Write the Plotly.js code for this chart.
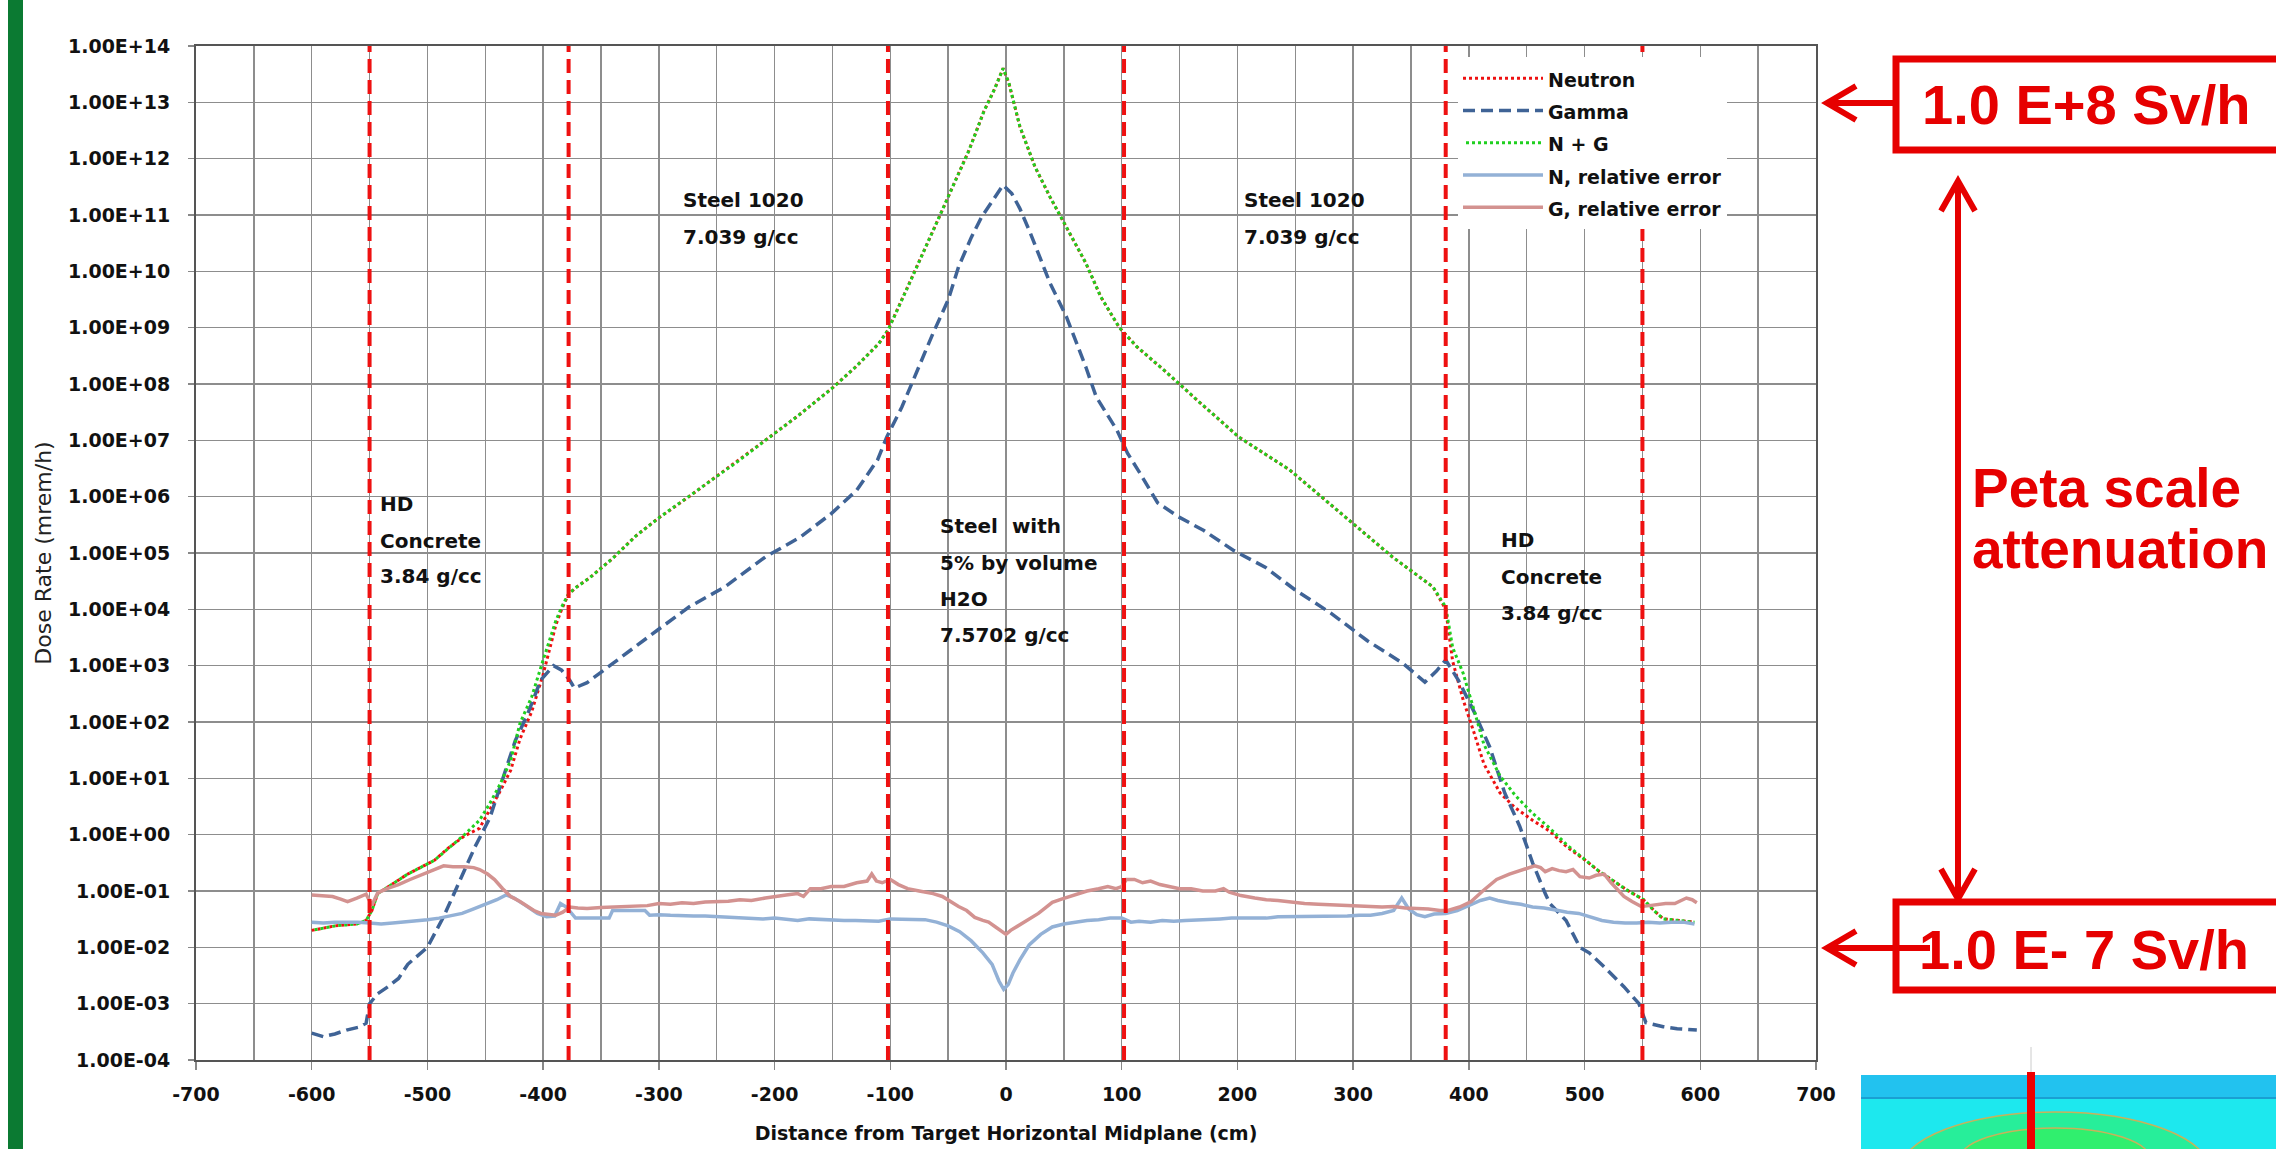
<!DOCTYPE html>
<html><head><meta charset="utf-8">
<script src="https://cdn.plot.ly/plotly-3.0.1.min.js"></script>
<style>html,body{margin:0;padding:0;background:#fff;overflow:hidden}#chart{width:2276px;height:1149px}</style>
</head><body><div id="chart"></div>
<script>
// ---------- data ----------
const xMain = [-600,-590,-580,-570,-561,-553,-548,-543,-534,-517,-494,-481,-468,-455,-446,-437,-428,-420,-410,-400,-389,-384,-378,-371,-360,-340,-320,-300,-274,-250,-230,-208,-180,-150,-130,-110,-102,-85,-72,-59,-46,-32,-19,-10,-2.5,2.5,12,25,38,52,69,82,98,113,136,166,201,245,290,334,369,380,386,395,405,413,427,440,455,470,485,500,513,525,538,551,560,568,580,595];
const nPlusG = [0.020,0.022,0.024,0.025,0.026,0.030,0.045,0.09,0.12,0.2,0.35,0.6,1.0,1.8,3.6,8,21,95,275,1.26e3,6.3e3,1.1e4,1.9e4,2.5e4,3.6e4,8e4,2e5,4.2e5,1e6,2.3e6,4.5e6,1e7,2.7e7,8.5e7,2e8,5.2e8,9e8,5.2e9,2.1e10,8e10,3.2e11,1.4e12,7e12,1.7e13,4e13,2.2e13,3.7e12,7.2e11,2.1e11,6.2e10,1.4e10,3.5e9,1e9,4.6e8,1.8e8,5e7,1.15e7,3e6,5e5,8.5e4,2.5e4,1.1e4,2.1e3,7.4e2,1.5e2,40,11,5,2.4,1.3,0.65,0.36,0.22,0.15,0.1,0.07,0.045,0.032,0.03,0.028];
const neutron = [0.020,0.022,0.024,0.025,0.026,0.030,0.045,0.09,0.12,0.2,0.35,0.6,0.95,1.3,2.8,6,14,50,150,700,5.3e3,1.0e4,1.85e4,2.5e4,3.6e4,8e4,2e5,4.2e5,1e6,2.3e6,4.5e6,1e7,2.7e7,8.5e7,2e8,5.2e8,9e8,5.2e9,2.1e10,8e10,3.2e11,1.4e12,7e12,1.7e13,4e13,2.2e13,3.7e12,7.2e11,2.1e11,6.2e10,1.4e10,3.5e9,1e9,4.6e8,1.8e8,5e7,1.15e7,3e6,5e5,8.5e4,2.5e4,1.0e4,1.2e3,2.5e2,60,18,5.5,3.0,1.8,1.15,0.6,0.36,0.22,0.15,0.1,0.07,0.045,0.032,0.03,0.028];

const xGamma = [-600,-590,-580,-570,-560,-553,-550,-543,-534,-525,-517,-500,-486,-473,-459,-446,-435,-424,-413,-402,-391,-384,-377,-373,-362,-340,-320,-301,-274,-243,-208,-178,-151,-129,-111,-103,-90,-80,-63,-50,-41,-30,-21,-10,-2.5,5,12,21,38,52,69,78,96,105,114,131,149,171,197,224,250,281,312,343,362,372,380,391,405,418,431,444,455,466,470,484,496,504,517,534,547,553,568,580,597];
const gamma = [3.0e-4,2.6e-4,2.9e-4,3.4e-4,3.8e-4,4.5e-4,1.0e-3,1.5e-3,2.0e-3,2.8e-3,5.0e-3,1.0e-2,3.5e-2,0.14,0.6,2.0,10,47,145,560,1.0e3,8.3e2,5.5e2,4.0e2,5.0e2,1.1e3,2.2e3,4.3e3,1.1e4,2.5e4,8.5e4,1.9e5,5e5,1.3e6,4.5e6,1.15e7,3.9e7,1.2e8,8e8,3.1e9,1.2e10,4e10,9.3e10,2e11,3.4e11,2.4e11,1.3e11,4.8e10,6.2e9,1.6e9,2e8,5.9e7,1.5e7,5.9e6,3e6,7.8e5,4.4e5,2.5e5,1.1e5,5.6e4,2.2e4,8.5e3,2.8e3,1.1e3,5.1e2,8e2,1.26e3,5.5e2,1.45e2,36,5.5,1.4,0.32,9e-2,6e-2,3e-2,1e-2,8e-3,4.5e-3,2e-3,1e-3,4.6e-4,3.9e-4,3.6e-4,3.4e-4];

const xNErr = [-600,-590,-580,-570,-560,-550,-540,-530,-520,-510,-500,-490,-480,-470,-460,-450,-440,-432,-425,-415,-405,-397,-390,-385,-380,-372,-360,-350,-343,-340,-330,-320,-312,-308,-300,-290,-280,-270,-260,-250,-240,-230,-220,-210,-200,-190,-180,-170,-160,-150,-140,-130,-120,-110,-100,-90,-80,-70,-60,-50,-40,-30,-20,-12,-6,-2,2,6,12,20,30,40,50,60,70,80,90,100,108,115,125,135,145,155,165,175,185,195,205,215,225,235,245,255,265,275,285,295,305,315,325,335,342,348,355,362,370,380,390,400,410,418,425,435,445,455,465,475,485,495,505,515,525,535,545,555,565,575,585,595];
const nRelErr = [0.028,0.027,0.028,0.028,0.028,0.027,0.026,0.027,0.028,0.030,0.031,0.033,0.036,0.040,0.048,0.058,0.070,0.085,0.075,0.055,0.040,0.035,0.036,0.060,0.052,0.033,0.033,0.032,0.033,0.045,0.045,0.046,0.045,0.037,0.038,0.037,0.036,0.036,0.036,0.035,0.034,0.034,0.033,0.032,0.033,0.031,0.030,0.032,0.031,0.030,0.030,0.030,0.029,0.029,0.032,0.032,0.031,0.031,0.028,0.024,0.019,0.013,0.008,0.005,0.0025,0.0018,0.0022,0.0035,0.006,0.011,0.017,0.023,0.026,0.028,0.030,0.031,0.033,0.033,0.028,0.029,0.028,0.030,0.029,0.030,0.031,0.031,0.032,0.033,0.033,0.034,0.033,0.035,0.035,0.035,0.036,0.036,0.036,0.036,0.037,0.037,0.040,0.045,0.075,0.048,0.038,0.035,0.039,0.040,0.045,0.055,0.068,0.075,0.068,0.062,0.058,0.052,0.050,0.046,0.042,0.040,0.034,0.030,0.028,0.027,0.027,0.028,0.027,0.028,0.028,0.026];

const xGErr = [-600,-590,-582,-575,-569,-561,-553,-548,-543,-535,-525,-515,-503,-495,-486,-478,-468,-460,-455,-448,-442,-435,-428,-420,-415,-408,-402,-395,-389,-383,-377,-370,-362,-350,-340,-330,-318,-310,-300,-290,-280,-270,-260,-252,-240,-230,-220,-208,-200,-190,-180,-175,-169,-160,-151,-140,-129,-120,-116,-112,-107,-100,-93,-85,-75,-63,-55,-48,-41,-34,-27,-20,-15,-9,-4,0,4,9,15,22,28,34,40,48,55,62,70,80,88,95,100,104,111,118,125,133,141,150,160,170,181,188,193,203,215,225,235,247,258,270,280,291,300,312,325,335,345,355,365,375,382,392,402,412,424,435,446,452,457,462,466,472,478,484,490,496,504,510,517,523,528,534,541,549,556,563,570,578,584,588,593,597];
const gRelErr = [0.085,0.082,0.080,0.072,0.065,0.075,0.088,0.056,0.093,0.11,0.13,0.16,0.20,0.24,0.28,0.27,0.27,0.26,0.24,0.20,0.16,0.11,0.080,0.065,0.056,0.045,0.040,0.038,0.037,0.042,0.052,0.050,0.049,0.051,0.052,0.052,0.053,0.055,0.060,0.058,0.062,0.060,0.064,0.065,0.066,0.070,0.068,0.075,0.080,0.085,0.090,0.080,0.11,0.11,0.12,0.12,0.14,0.15,0.20,0.15,0.14,0.16,0.13,0.11,0.10,0.090,0.080,0.065,0.053,0.045,0.034,0.030,0.028,0.023,0.019,0.017,0.020,0.023,0.028,0.034,0.040,0.050,0.063,0.072,0.080,0.090,0.10,0.11,0.12,0.11,0.12,0.16,0.16,0.14,0.15,0.13,0.12,0.11,0.11,0.10,0.10,0.11,0.095,0.083,0.075,0.070,0.068,0.063,0.060,0.058,0.057,0.056,0.054,0.053,0.052,0.053,0.050,0.049,0.048,0.045,0.045,0.052,0.065,0.10,0.16,0.20,0.24,0.26,0.28,0.26,0.22,0.25,0.23,0.22,0.24,0.18,0.17,0.19,0.20,0.14,0.11,0.080,0.065,0.053,0.055,0.058,0.060,0.060,0.068,0.075,0.070,0.062];

const boundaries = [-550,-378,-102,102,380,550];
const xTickVals = [-700,-600,-500,-400,-300,-200,-100,0,100,200,300,400,500,600,700];
const xTickLabels = ['-700','-600','-500','-400','-300','-200','-100','0','100','200','300','400','500','600','700'];
const yTickVals = [1e-4,1e-3,1e-2,1e-1,1e0,1e1,1e2,1e3,1e4,1e5,1e6,1e7,1e8,1e9,1e10,1e11,1e12,1e13,1e14];
const yTickLabels = ['1.00E-04','1.00E-03','1.00E-02','1.00E-01','1.00E+00','1.00E+01','1.00E+02','1.00E+03','1.00E+04','1.00E+05','1.00E+06','1.00E+07','1.00E+08','1.00E+09','1.00E+10','1.00E+11','1.00E+12','1.00E+13','1.00E+14'];
const seriesNames = ['Neutron','Gamma','N + G','N, relative error','G, relative error'];

// ---------- layout helpers (pixel -> paper) ----------
const L=196, R=1816, T=46, B=1060;
const px = p => (p-L)/(R-L);
const py = p => (B-p)/(B-T);
const RED = '#e60000';
const F = 'DejaVu Sans';

const lg = n => '<span style="font-size:19px">'+n+'</span>';
const traces = [
  {x:xMain, y:neutron, name:lg(seriesNames[0]), mode:'lines', line:{color:'#ee1111', width:3, dash:'3px,3px'}},
  {x:xGamma, y:gamma, name:lg(seriesNames[1]), mode:'lines', line:{color:'#3f6396', width:3.5, dash:'12px,6px'}},
  {x:xMain, y:nPlusG, name:lg(seriesNames[2]), mode:'lines', line:{color:'#1fd01f', width:3, dash:'0px,3px,3px,0px'}},
  {x:xNErr, y:nRelErr, name:lg(seriesNames[3]), mode:'lines', line:{color:'#93b1d6', width:3.5}},
  {x:xGErr, y:gRelErr, name:lg(seriesNames[4]), mode:'lines', line:{color:'#d39290', width:3.5}}
];

const shapes = [];
// left green slide bar
shapes.push({type:'rect', xref:'paper', yref:'paper', x0:px(8), x1:px(23), y0:py(1160), y1:py(-10), fillcolor:'#0b7a32', line:{width:0}});
// material boundaries
boundaries.forEach(b => shapes.push({type:'line', xref:'x', yref:'paper', x0:b, x1:b, y0:0, y1:1, layer:'above', line:{color:'#ee1111', width:4, dash:'14px,7px'}}));
// red boxes
shapes.push({type:'rect', xref:'paper', yref:'paper', x0:px(1896), x1:px(2300), y0:py(150), y1:py(59), line:{color:RED, width:7}, fillcolor:'rgba(0,0,0,0)'});
shapes.push({type:'rect', xref:'paper', yref:'paper', x0:px(1896), x1:px(2300), y0:py(990), y1:py(902), line:{color:RED, width:7}, fillcolor:'rgba(0,0,0,0)'});
const pth = pts => pts.map((p,i)=>(i?'L':'M')+px(p[0])+','+py(p[1])).join(' ');
const arrow = pts => shapes.push({type:'path', xref:'paper', yref:'paper', path:pth(pts), line:{color:RED, width:6}});
arrow([[1826,103],[1896,103]]);
arrow([[1856,86],[1827,103],[1856,120]]);
arrow([[1826,948],[1930,948]]);
arrow([[1856,931],[1827,948],[1856,965]]);
arrow([[1958,182],[1958,898]]);
arrow([[1941,211],[1958,181],[1975,211]]);
arrow([[1941,869],[1958,899],[1975,869]]);
// bottom-right simulation picture
shapes.push({type:'rect', xref:'paper', yref:'paper', x0:px(1861), x1:px(2300), y0:py(1160), y1:py(1075), fillcolor:'#22c2ef', line:{width:0}});
shapes.push({type:'rect', xref:'paper', yref:'paper', x0:px(1861), x1:px(2300), y0:py(1160), y1:py(1098), fillcolor:'#1de8ee', line:{width:0}});
shapes.push({type:'circle', xref:'paper', yref:'paper', x0:px(1900), x1:px(2210), y0:py(1230), y1:py(1112), fillcolor:'#27ee9a', line:{color:'#c9b25a', width:1.5}});
shapes.push({type:'circle', xref:'paper', yref:'paper', x0:px(1960), x1:px(2150), y0:py(1190), y1:py(1128), fillcolor:'#30ef6e', line:{color:'#c9b25a', width:1.5}});
shapes.push({type:'line', xref:'paper', yref:'paper', x0:px(1861), x1:px(2300), y0:py(1098), y1:py(1098), line:{color:'#1a9fd2', width:2}});
shapes.push({type:'line', xref:'paper', yref:'paper', x0:px(2031), x1:px(2031), y0:py(1072), y1:py(1047), line:{color:'#cccccc', width:1}});
shapes.push({type:'rect', xref:'paper', yref:'paper', x0:px(2027), x1:px(2035), y0:py(1160), y1:py(1072), fillcolor:'#ee0000', line:{width:0}});

// text annotations
const ann = [];
const txt = (s, xv, ypx) => ann.push({text:s, xref:'x', x:xv, xanchor:'left', yref:'paper', y:py(ypx), yanchor:'middle', showarrow:false, font:{family:F, size:20, color:'#111', weight:'bold'}});
txt('Steel 1020', -281, 200); txt('7.039 g/cc', -281, 237);
txt('Steel 1020', 204, 200); txt('7.039 g/cc', 204, 237);
txt('HD', -543, 504); txt('Concrete', -543, 541); txt('3.84 g/cc', -543, 576);
txt('Steel  with', -59, 526); txt('5% by volume', -59, 563); txt('H2O', -59, 599); txt('7.5702 g/cc', -59, 635);
txt('HD', 426, 540); txt('Concrete', 426, 577); txt('3.84 g/cc', 426, 613);
const red = (s, xp, yp, sz) => ann.push({text:s, xref:'paper', x:px(xp), xanchor:'left', yref:'paper', y:py(yp), yanchor:'middle', showarrow:false, font:{family:'Liberation Sans', size:sz, color:RED, weight:'bold'}});
red('1.0 E+8 Sv/h', 1920, 105, 56);
red('1.0 E- 7 Sv/h', 1917, 949, 56);
red('Peta scale', 1970, 488, 55);
red('attenuation', 1970, 549, 55);

const grid = '#8d8d8d';
const layout = {
  width:2276, height:1149,
  margin:{l:L, r:2276-R, t:T, b:1149-B, pad:0},
  paper_bgcolor:'#fff', plot_bgcolor:'#fff',
  showlegend:true,
  legend:{x:px(1458), y:py(57), xanchor:'left', yanchor:'top', bgcolor:'#fff', borderwidth:0, itemwidth:80,
          font:{family:F, size:22.5, color:'#111', weight:'bold'}},
  xaxis:{range:[-700,700], tickmode:'array', tickvals:xTickVals, ticktext:xTickLabels, showgrid:true, gridcolor:grid, gridwidth:1.5,
         minor:{tick0:0, dtick:50, showgrid:true, gridcolor:grid, gridwidth:1.5},
         zeroline:false, showline:true, mirror:true, linecolor:'#555', linewidth:2,
         ticks:'outside', ticklen:8, tickwidth:1.5, tickcolor:'#888', ticklabelstandoff:8,
         tickfont:{family:F, size:19, color:'#111', weight:'bold'},
         title:{text:'Distance from Target Horizontal Midplane (cm)', font:{family:F, size:19, color:'#111', weight:'bold'}, standoff:23}},
  yaxis:{type:'log', range:[-4,14], tickmode:'array', tickvals:yTickVals, ticktext:yTickLabels,
         showgrid:true, gridcolor:grid, gridwidth:1.5, zeroline:false,
         showline:true, mirror:true, linecolor:'#555', linewidth:2,
         ticks:'outside', ticklen:6, tickwidth:1.5, tickcolor:'#888', ticklabelstandoff:14,
         tickfont:{family:F, size:19, color:'#111', weight:'bold'},
         title:{text:'Dose Rate (mrem/h)', font:{family:F, size:22, color:'#222'}, standoff:10}},
  shapes:shapes, annotations:ann
};
Plotly.newPlot('chart', traces, layout, {displayModeBar:false, staticPlot:true});
</script></body></html>
